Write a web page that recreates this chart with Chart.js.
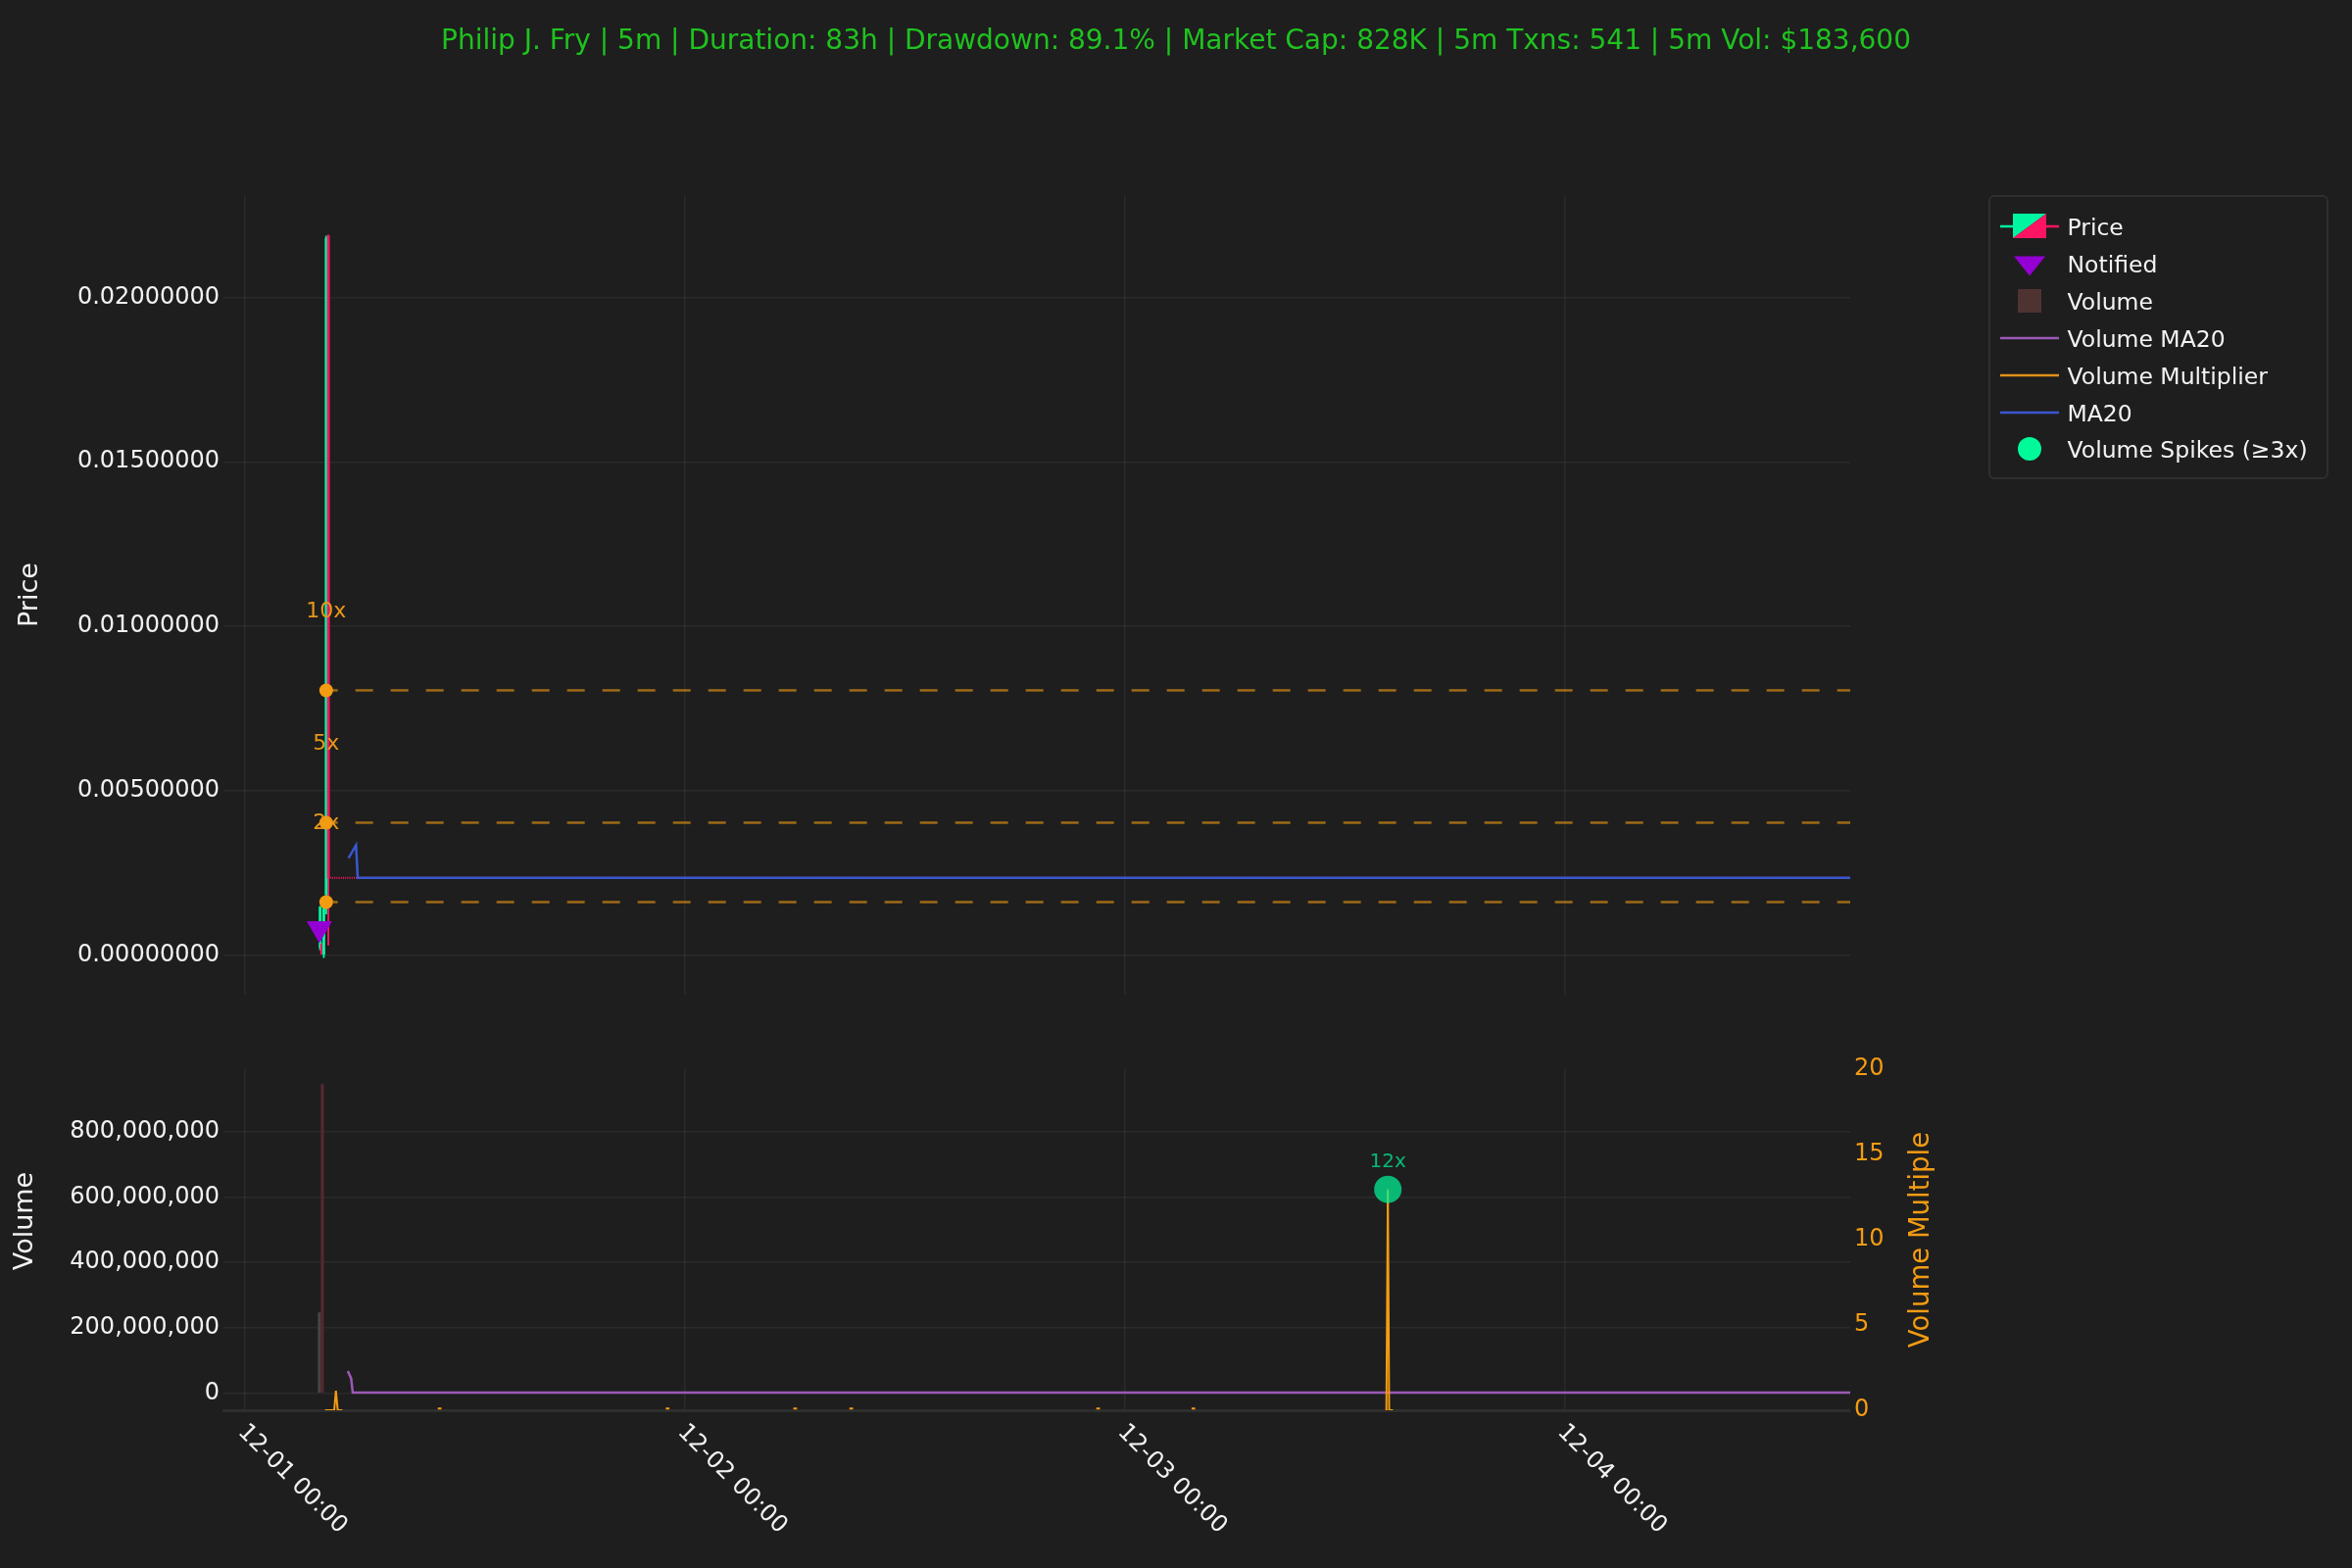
<!DOCTYPE html>
<html><head><meta charset="utf-8">
<script src="https://cdn.jsdelivr.net/npm/chart.js@4.4.1/dist/chart.umd.min.js"></script>
<style>
html,body{margin:0;padding:0;background:#1e1e1e;}
#wrap{position:relative;width:2400px;height:1600px;background:#1e1e1e;}
canvas{position:absolute;left:0;top:0;}
</style></head>
<body><div id="wrap"><canvas id="top" width="2400" height="1600"></canvas><canvas id="bot" width="2400" height="1600"></canvas></div>
<script>
// ---------------- DATA ----------------
const titleText = "Philip J. Fry | 5m | Duration: 83h | Drawdown: 89.1% | Market Cap: 828K | 5m Txns: 541 | 5m Vol: $183,600";
// x values are hours since 12-01 00:00
const xTickHours = [0, 24, 48, 72];
const xTickLabels = ['12-01 00:00', '12-02 00:00', '12-03 00:00', '12-04 00:00'];

const candleTime  = [4.10, 4.18, 4.30, 4.43, 4.55];
const candleOpen  = [0.00022, 0.00034, 0.00000, 0.00183, 0.02187];
const candleHigh  = [0.00148, 0.00036, 0.00150, 0.02187, 0.02190];
const candleLow   = [0.00015, 0.00000, -0.00008, 0.00125, 0.00030];
const candleClose = [0.00146, 0.00004, 0.00148, 0.02180, 0.00235];

const flatPriceTime  = [4.64, 87.59];
const flatPriceValue = [0.00235, 0.00235];

const ma20Time  = [5.65, 6.06, 6.15, 87.59];
const ma20Value = [0.00295, 0.00334, 0.00235, 0.00235];

const notifiedTime  = [4.06];
const notifiedPrice = [0.000805];

const levelValue = [0.00161, 0.004025, 0.00805];
const levelLabel = ['2x', '5x', '10x'];
const levelStartTime = 4.10;
const levelEndTime = 87.59;
const levelMarkTime = 4.43;

const priceTicks = [0, 0.005, 0.01, 0.015, 0.02];

const volTime  = [4.06, 4.22];
const volValue = [246e6, 945e6];
const volIsUp  = [true, false];

const volMaTime  = [5.61, 5.79, 5.88, 87.59];
const volMaValue = [67e6, 45e6, 1e6, 1e6];

const multTime  = [4.37, 4.87, 4.96, 5.06, 5.31, 5.40,
                   10.52, 10.72, 10.80,
                   22.96, 23.16, 23.20,
                   29.92, 30.12, 30.20,
                   32.98, 33.18, 33.20,
                   46.45, 46.65, 46.70,
                   51.65, 51.85, 51.90,
                   62.28, 62.36, 62.43, 62.64, 62.70];
const multValue = [0, 0, 1.15, 0, 0, null,
                   0.1, 0.1, null,
                   0.1, 0.1, null,
                   0.1, 0.1, null,
                   0.1, 0.1, null,
                   0.1, 0.1, null,
                   0.1, 0.1, null,
                   0, 12.95, 0, 0, null];

const spikeTime  = [62.36];
const spikeValue = [12.95];
const spikeLabel = ['12x'];

const volTicks  = [0, 2e8, 4e8, 6e8, 8e8];
const multTicks = [0, 5, 10, 15, 20];

const legendLabels = ['Price', 'Notified', 'Volume', 'Volume MA20', 'Volume Multiplier', 'MA20', 'Volume Spikes (\u22653x)'];

// ---------------- STYLE ----------------
const FAM = '"DejaVu Sans", "Liberation Sans", sans-serif';
const fnt = s => s + 'px ' + FAM;
const TXT = '#f2f2f2';
const GRID = 'rgba(255,255,255,0.055)';
const GREEN = '#00f5a0';
const RED = '#ff1464';
const PURPLE = '#9400d3';
const ORANGE = '#f39c12';
const BLUE = '#3a57cf';
const VMA = '#9b59b6';
const SPIKE = 'rgba(0,250,154,0.7)';
const TITLE_GREEN = '#1fc21f';
const X_MIN = -1.176, X_MAX = 87.59;

Chart.defaults.font.family = FAM;

const candleColor = i => (i !== undefined && candleClose[i] >= candleOpen[i]) ? GREEN : RED;

const xScaleBase = (border) => ({
  type: 'linear', min: X_MIN, max: X_MAX, offset: false,
  grid: { color: GRID, lineWidth: 1.5, drawTicks: false, offset: false },
  border: border,
  ticks: { display: false },
  afterBuildTicks: s => { s.ticks = xTickHours.map(v => ({ value: v })); },
  afterFit: s => { s.height = 0; }
});

// ---------------- TOP CHART ----------------
const levelLabelPlugin = {
  id: 'levelLabels',
  afterDatasetsDraw(chart) {
    const ctx = chart.ctx, xs = chart.scales.x, ys = chart.scales.y;
    ctx.save();
    ctx.font = fnt(22);
    ctx.fillStyle = '#e8971a';
    ctx.textAlign = 'center';
    ctx.textBaseline = 'middle';
    levelValue.forEach((v, i) => {
      ctx.fillText(levelLabel[i], xs.getPixelForValue(levelMarkTime), ys.getPixelForValue(v) - 80);
    });
    ctx.restore();
  }
};

new Chart(document.getElementById('top'), {
  type: 'bar',
  data: {
    datasets: [
      { type: 'line', label: 'Notified', data: notifiedTime.map((t, i) => ({ x: t, y: notifiedPrice[i] })),
        showLine: false, pointStyle: 'triangle', rotation: 180, pointRadius: 15,
        pointBackgroundColor: PURPLE, pointBorderWidth: 0, order: 0 },
      { type: 'line', label: 'Levels marker', data: levelValue.map(v => ({ x: levelMarkTime, y: v })),
        showLine: false, pointStyle: 'circle', pointRadius: 7,
        pointBackgroundColor: ORANGE, pointBorderWidth: 0, order: 1 },
      { type: 'bar', label: 'Body', data: candleTime.map((t, i) => ({ x: t, y: [candleOpen[i], candleClose[i]] })),
        backgroundColor: c => candleColor(c.dataIndex), borderWidth: 0, barThickness: 2.2, grouped: false, order: 2 },
      { type: 'bar', label: 'Wick', data: candleTime.map((t, i) => ({ x: t, y: [candleLow[i], candleHigh[i]] })),
        backgroundColor: c => candleColor(c.dataIndex), borderWidth: 0, barThickness: 1.2, grouped: false, order: 3 },
      { type: 'line', label: 'MA20', data: ma20Time.map((t, i) => ({ x: t, y: ma20Value[i] })),
        borderColor: BLUE, borderWidth: 2.5, pointRadius: 0, tension: 0, fill: false, order: 4 },
      { type: 'line', label: 'Close', data: flatPriceTime.map((t, i) => ({ x: t, y: flatPriceValue[i] })),
        borderColor: RED, borderWidth: 2, borderDash: [1, 1.2], pointRadius: 0, fill: false, order: 5 },
      ...levelValue.map(v => ({
        type: 'line', label: 'Level', data: [{ x: levelStartTime, y: v }, { x: levelEndTime, y: v }],
        borderColor: 'rgba(243,156,18,0.6)', borderWidth: 2.5, borderDash: [18, 18], pointRadius: 0, fill: false, order: 6
      }))
    ]
  },
  options: {
    responsive: false, animation: false, devicePixelRatio: 1,
    layout: { padding: { left: 0, top: 199, right: 512, bottom: 585 } },
    plugins: { legend: { display: false }, tooltip: { enabled: false }, title: { display: false } },
    scales: {
      x: xScaleBase({ display: false }),
      y: {
        type: 'linear', min: -0.001207, max: 0.023115,
        grid: { color: GRID, lineWidth: 1.5, drawTicks: false },
        border: { display: false },
        ticks: { color: TXT, font: { size: 24 }, padding: 4, callback: v => Number(v).toFixed(8) },
        afterBuildTicks: s => { s.ticks = priceTicks.map(v => ({ value: v })); },
        afterFit: s => { s.width = 228; },
        title: { display: true, text: 'Price', color: TXT, font: { size: 27 }, padding: { top: 15, bottom: 0 } }
      }
    }
  },
  plugins: [levelLabelPlugin]
});

// ---------------- BOTTOM CHART ----------------
function drawLegend(ctx) {
  const bx = 2030, by = 200, bw = 345, bh = 288;
  ctx.save();
  ctx.beginPath();
  ctx.roundRect(bx, by, bw, bh, 5);
  ctx.fillStyle = '#1e1e1e';
  ctx.fill();
  ctx.lineWidth = 2;
  ctx.strokeStyle = 'rgba(255,255,255,0.08)';
  ctx.stroke();

  const rows = [231, 269, 307, 345, 383, 421, 458];
  const sx = 2071;
  // Price
  ctx.lineWidth = 2.5;
  ctx.strokeStyle = GREEN; ctx.beginPath(); ctx.moveTo(2041, rows[0]); ctx.lineTo(2054, rows[0]); ctx.stroke();
  ctx.strokeStyle = RED; ctx.beginPath(); ctx.moveTo(2088, rows[0]); ctx.lineTo(2101, rows[0]); ctx.stroke();
  ctx.fillStyle = GREEN; ctx.beginPath(); ctx.moveTo(2054, 218); ctx.lineTo(2088, 218); ctx.lineTo(2054, 243); ctx.closePath(); ctx.fill();
  ctx.fillStyle = RED; ctx.beginPath(); ctx.moveTo(2088, 218); ctx.lineTo(2088, 243); ctx.lineTo(2054, 243); ctx.closePath(); ctx.fill();
  // Notified
  ctx.fillStyle = PURPLE; ctx.beginPath(); ctx.moveTo(2055, 261.5); ctx.lineTo(2087, 261.5); ctx.lineTo(sx, 281.5); ctx.closePath(); ctx.fill();
  // Volume
  ctx.fillStyle = '#4f3333'; ctx.fillRect(2059, 295, 24, 24);
  // Lines
  [[VMA, rows[3]], ['#e0901c', rows[4]], [BLUE, rows[5]]].forEach(([c, y]) => {
    ctx.strokeStyle = c; ctx.lineWidth = 2.5; ctx.beginPath(); ctx.moveTo(2041, y); ctx.lineTo(2101, y); ctx.stroke();
  });
  // Spikes
  ctx.fillStyle = '#00fa9a'; ctx.beginPath(); ctx.arc(sx, rows[6], 12, 0, Math.PI * 2); ctx.fill();
  // Text
  ctx.fillStyle = TXT;
  ctx.font = fnt(23.5);
  ctx.textAlign = 'left';
  ctx.textBaseline = 'alphabetic';
  legendLabels.forEach((t, i) => ctx.fillText(t, 2109.5, rows[i] + 8.6));
  ctx.restore();
}

const bottomDecor = {
  id: 'bottomDecor',
  afterDraw(chart) {
    const ctx = chart.ctx, xs = chart.scales.x, y1 = chart.scales.y1, ca = chart.chartArea;
    ctx.save();
    // x tick labels rotated like the reference
    ctx.font = fnt(24);
    ctx.fillStyle = TXT;
    ctx.textAlign = 'left';
    ctx.textBaseline = 'alphabetic';
    xTickHours.forEach((h, i) => {
      ctx.save();
      ctx.translate(xs.getPixelForValue(h) - 8, ca.bottom + 23);
      ctx.rotate(Math.PI / 4);
      ctx.fillText(xTickLabels[i], 0, 0);
      ctx.restore();
    });
    // spike labels
    ctx.font = fnt(20);
    ctx.fillStyle = 'rgba(0,250,154,0.7)';
    ctx.textAlign = 'center';
    ctx.textBaseline = 'middle';
    spikeTime.forEach((t, i) => {
      ctx.fillText(spikeLabel[i], xs.getPixelForValue(t), y1.getPixelForValue(spikeValue[i]) - 28);
    });
    // left axis title
    ctx.save();
    ctx.translate(26, 1246);
    ctx.rotate(-Math.PI / 2);
    ctx.font = fnt(27);
    ctx.fillStyle = TXT;
    ctx.textAlign = 'center';
    ctx.textBaseline = 'middle';
    ctx.fillText('Volume', 0, 0);
    ctx.restore();
    // right axis title
    ctx.save();
    ctx.translate(ca.right + 73, (ca.top + ca.bottom) / 2);
    ctx.rotate(-Math.PI / 2);
    ctx.font = fnt(27.5);
    ctx.fillStyle = ORANGE;
    ctx.textAlign = 'center';
    ctx.textBaseline = 'middle';
    ctx.fillText('Volume Multiple', 0, 0);
    ctx.restore();
    ctx.restore();
    drawLegend(ctx);
  }
};

new Chart(document.getElementById('bot'), {
  type: 'bar',
  data: {
    datasets: [
      { type: 'line', label: 'Volume Spikes', yAxisID: 'y1', data: spikeTime.map((t, i) => ({ x: t, y: spikeValue[i] })),
        showLine: false, pointRadius: 14, pointBackgroundColor: SPIKE, pointBorderWidth: 0, order: 0 },
      { type: 'line', label: 'Volume Multiplier', yAxisID: 'y1', data: multTime.map((t, i) => ({ x: t, y: multValue[i] })),
        borderColor: ORANGE, borderWidth: 2, pointRadius: 0, spanGaps: false, tension: 0, fill: false, order: 1 },
      { type: 'line', label: 'Volume MA20', yAxisID: 'y', data: volMaTime.map((t, i) => ({ x: t, y: volMaValue[i] })),
        borderColor: VMA, borderWidth: 2.5, pointRadius: 0, tension: 0, fill: false, order: 2 },
      { type: 'bar', label: 'Volume', yAxisID: 'y', data: volTime.map((t, i) => ({ x: t, y: volValue[i] })),
        backgroundColor: c => (c.dataIndex !== undefined && volIsUp[c.dataIndex]) ? '#4a4343' : '#55292f',
        borderWidth: 0, barThickness: 2.5, grouped: false, order: 3 }
    ]
  },
  options: {
    responsive: false, animation: false, devicePixelRatio: 1,
    layout: { padding: { left: 0, top: 0, right: 0, bottom: 161 } },
    plugins: {
      legend: { display: false }, tooltip: { enabled: false },
      title: { display: true, text: titleText, color: TITLE_GREEN, font: { size: 28, weight: 'normal' },
               padding: { top: 26, bottom: 1031.4 } }
    },
    scales: {
      x: xScaleBase({ display: true, color: '#2e2e2e', width: 3 }),
      y: {
        type: 'linear', position: 'left', min: -52.8e6, max: 992e6,
        grid: { color: GRID, lineWidth: 1.5, drawTicks: false },
        border: { display: false },
        ticks: { color: TXT, font: { size: 24 }, padding: 4, callback: v => Number(v).toLocaleString('en-US') },
        afterBuildTicks: s => { s.ticks = volTicks.map(v => ({ value: v })); },
        afterFit: s => { s.width = 228; }
      },
      y1: {
        type: 'linear', position: 'right', min: 0, max: 20,
        grid: { display: false, drawTicks: false },
        border: { display: false },
        ticks: { color: ORANGE, font: { size: 24 }, padding: 4 },
        afterBuildTicks: s => { s.ticks = multTicks.map(v => ({ value: v })); },
        afterFit: s => { s.width = 512; }
      }
    }
  },
  plugins: [bottomDecor]
});
</script>
</body></html>
